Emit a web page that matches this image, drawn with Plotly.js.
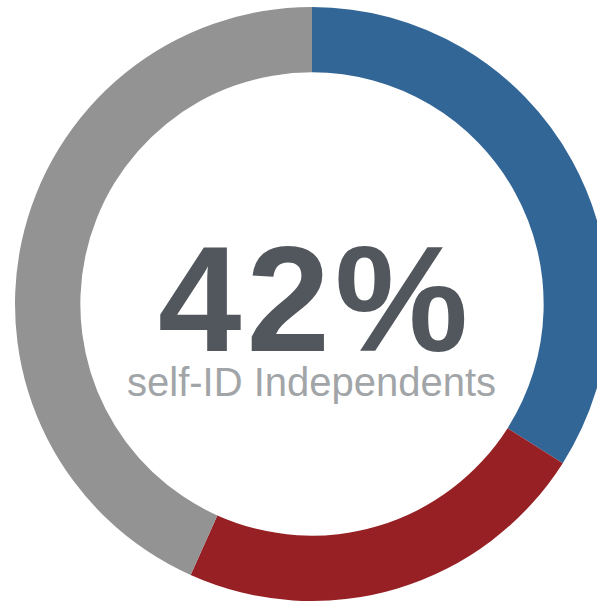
<!DOCTYPE html>
<html>
<head>
<meta charset="utf-8">
<script src="https://cdn.plot.ly/plotly-3.0.1.min.js"></script>
<style>
html, body { margin: 0; padding: 0; overflow: hidden; background: #fff; }
#chart { width: 624px; height: 601px; }
</style>
</head>
<body>
<div id="chart"></div>
<script>
const labels = ["Blue segment", "Red segment", "Gray segment"];
const values = [34, 22.7, 43.3];
const colors = ["#326696", "#962023", "#939393"];
const headline = "42%";
const subtitle = "self-ID Independents";

const data = [{
  type: "pie",
  labels: labels,
  values: values,
  hole: 0.78,
  sort: false,
  direction: "clockwise",
  rotation: 0,
  textinfo: "none",
  hoverinfo: "none",
  marker: { colors: colors, line: { width: 0 } },
  showlegend: false
}];

const layout = {
  width: 624,
  height: 601,
  margin: { l: 15, r: 15, t: 7, b: 0 },
  paper_bgcolor: "#ffffff",
  showlegend: false,
  annotations: [
    {
      text: "<b><span style='letter-spacing:5px'>" + headline + "</span></b>",
      xref: "paper", yref: "paper",
      x: (315 - 15) / 594, y: 1 - (299 - 7) / 594,
      xanchor: "center", yanchor: "middle",
      showarrow: false,
      font: { family: "Liberation Sans, Arial, sans-serif", size: 150, color: "#52575d" }
    },
    {
      text: subtitle,
      xref: "paper", yref: "paper",
      x: (311 - 15) / 594, y: 1 - (382 - 7) / 594,
      xanchor: "center", yanchor: "middle",
      showarrow: false,
      font: { family: "Liberation Sans, Arial, sans-serif", size: 40, color: "#a2a5a7" }
    }
  ]
};

Plotly.newPlot("chart", data, layout, { staticPlot: true, displayModeBar: false });
</script>
</body>
</html>
